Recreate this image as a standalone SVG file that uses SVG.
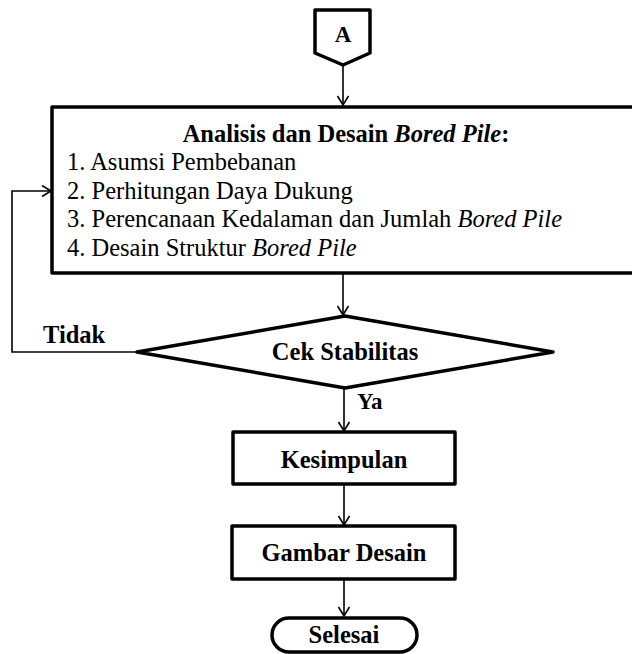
<svg xmlns="http://www.w3.org/2000/svg" width="632" height="654" viewBox="0 0 632 654">
<defs>
<marker id="ah" markerUnits="userSpaceOnUse" markerWidth="14" markerHeight="14" refX="10" refY="6" orient="auto">
<path d="M1,0.5 L10,6 L1,11.5" fill="none" stroke="#000" stroke-width="1.6"/>
</marker>
</defs>
<style>
.shape{fill:#fff;stroke:#000;stroke-width:3.5;stroke-linejoin:round}
.conn{fill:none;stroke:#000;stroke-width:1.6}
.t{font-family:"Liberation Serif","Times New Roman",serif;fill:#000;font-size:24.5px}
.b{font-weight:bold}
.c{text-anchor:middle}
</style>
<rect width="632" height="654" fill="#fff"/>
<g id="connectors">
<line class="conn" x1="343" y1="65" x2="343" y2="105" marker-end="url(#ah)"/>
<line class="conn" x1="343" y1="274" x2="343" y2="315" marker-end="url(#ah)"/>
<line class="conn" x1="344" y1="388" x2="344" y2="431" marker-end="url(#ah)"/>
<line class="conn" x1="344" y1="484" x2="344" y2="525" marker-end="url(#ah)"/>
<line class="conn" x1="344" y1="579" x2="344" y2="616" marker-end="url(#ah)"/>
<polyline class="conn" points="137,352 12,352 12,191 51,191" marker-end="url(#ah)"/>
</g>
<g id="nodeA">
<polygon class="shape" points="315,10 370,10 370,53 343,65 315,53"/>
<text class="t b c" x="343" y="42" style="font-size:23px">A</text>
</g>
<g id="analisis">
<rect class="shape" x="52" y="107" width="600" height="166"/>
<text class="t b c" x="346" y="142">Analisis dan Desain <tspan font-style="italic">Bored Pile</tspan>:</text>
<text class="t" x="67" y="170">1. Asumsi Pembebanan</text>
<text class="t" x="67" y="198.5">2. Perhitungan Daya Dukung</text>
<text class="t" x="67" y="227">3. Perencanaan Kedalaman dan Jumlah <tspan font-style="italic">Bored Pile</tspan></text>
<text class="t" x="67" y="255.5">4. Desain Struktur <tspan font-style="italic">Bored Pile</tspan></text>
</g>
<g id="cek">
<polygon class="shape" points="345,316 553,352 345,388 137,352"/>
<text class="t b c" x="345" y="360">Cek Stabilitas</text>
</g>
<g id="labels">
<text class="t b" x="43" y="343">Tidak</text>
<text class="t b" x="357" y="409" style="font-size:23px">Ya</text>
</g>
<g id="kesimpulan">
<rect class="shape" x="233" y="432" width="222" height="52"/>
<text class="t b c" x="344" y="468">Kesimpulan</text>
</g>
<g id="gambar">
<rect class="shape" x="232" y="526" width="223" height="53"/>
<text class="t b c" x="344" y="561">Gambar Desain</text>
</g>
<g id="selesai">
<rect class="shape" x="272" y="618" width="145" height="34" rx="17" ry="17"/>
<text class="t b c" x="344" y="643">Selesai</text>
</g>
</svg>
